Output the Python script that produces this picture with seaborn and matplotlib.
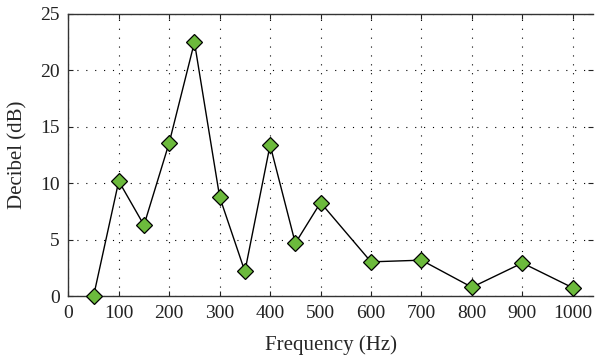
import matplotlib
matplotlib.use("Agg")
import matplotlib.pyplot as plt
import seaborn as sns
import pandas as pd

freq = [50, 100, 150, 200, 250, 300, 350, 400, 450, 500, 600, 700, 800, 900, 1000]
decibel = [0.0, 10.2, 6.3, 13.6, 22.5, 8.8, 2.2, 13.4, 4.7, 8.3, 3.05, 3.2, 0.8, 2.95, 0.75]
xticks = [0, 100, 200, 300, 400, 500, 600, 700, 800, 900, 1000]
yticks = [0, 5, 10, 15, 20, 25]

sns.set_style("white")
plt.rcParams['font.family'] = ['Liberation Serif', 'DejaVu Serif']

df = pd.DataFrame({"Frequency (Hz)": freq, "Decibel (dB)": decibel})

fig = plt.figure(figsize=(5.96, 3.62), dpi=100)
ax = fig.add_axes([68.3/596, (362-296.3)/362, (593-68.3)/596, (296.3-14)/362])
sns.lineplot(data=df, x="Frequency (Hz)", y="Decibel (dB)", ax=ax, color="black",
             linewidth=1.0, marker="D", markersize=8.5, markerfacecolor="#6cba3c",
             markeredgecolor="black", markeredgewidth=0.9, zorder=3, clip_on=False)
ax.set_xlim(0, 1040)
ax.set_ylim(0, 25)
ax.set_xticks(xticks)
ax.set_yticks(yticks)
ax.grid(True, color="black", linestyle=(0, (1, 7)), linewidth=0.8)
for s in ["left", "bottom", "top"]:
    ax.spines[s].set_visible(True)
    ax.spines[s].set_color("#333333")
    ax.spines[s].set_linewidth(1.0)
ax.spines["right"].set_visible(False)
ax.tick_params(direction="in", length=3.5, width=0.8, top=True, right=True,
               bottom=True, left=True, labelsize=14, colors="#222222", pad=6)
ax.set_xlabel("Frequency (Hz)", fontsize=15, labelpad=10)
ax.set_ylabel("Decibel (dB)", fontsize=15, labelpad=9)
fig.savefig("out.png", dpi=100)
